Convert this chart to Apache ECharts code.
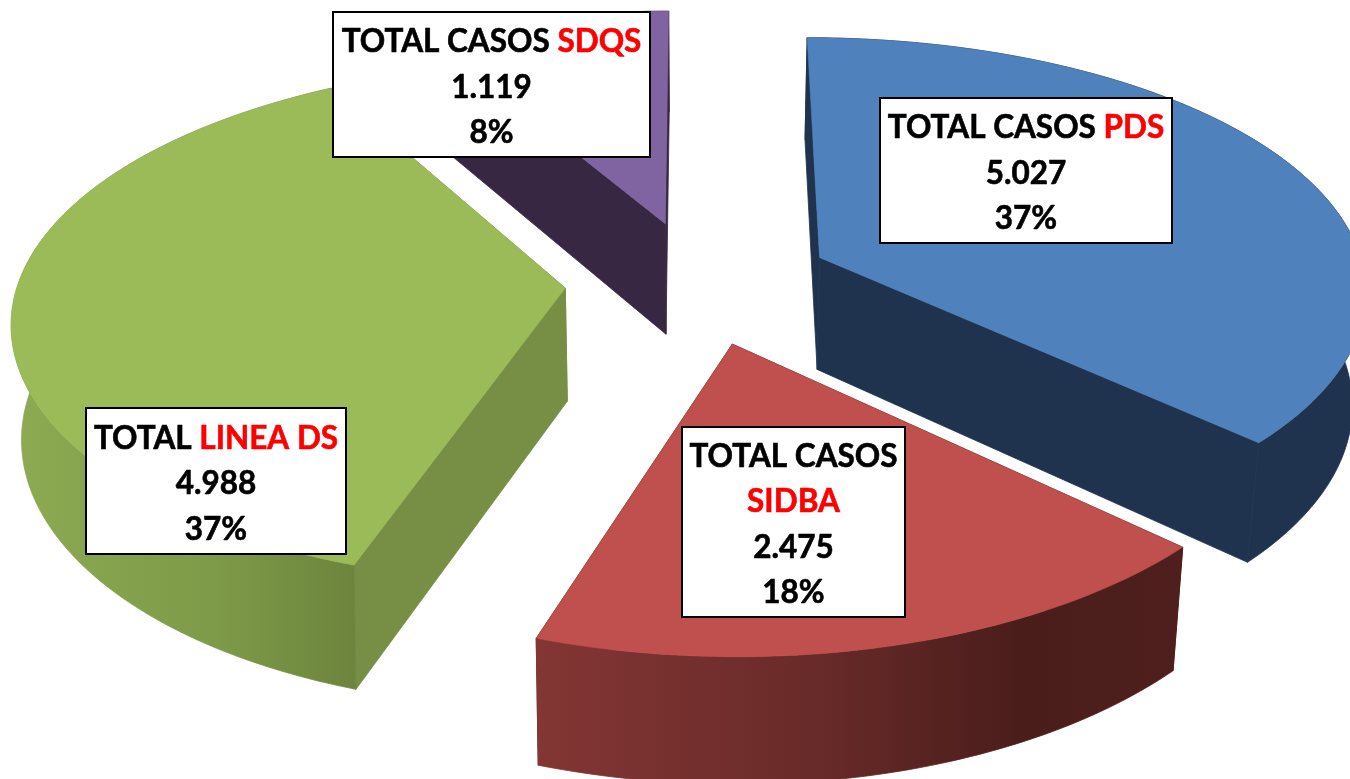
<!DOCTYPE html>
<html>
<head>
<meta charset="utf-8">
<title>Total casos</title>
<style>
  html, body { margin: 0; padding: 0; background: #fff; }
  #chart { width: 1350px; height: 779px; }
</style>
<script src="https://cdn.jsdelivr.net/npm/echarts@6/dist/echarts.min.js"></script>
</head>
<body>
<div id="chart"></div>
<script>
// datos
const categories = ["PDS", "SIDBA", "LINEA DS", "SDQS"];
const values = [5027, 2475, 4988, 1119];
const prefixes = ["TOTAL CASOS", "TOTAL CASOS", "TOTAL", "TOTAL CASOS"];
const percents = ["37%", "18%", "37%", "8%"];
const topColors = ["#4f81bd", "#c0504d", "#9bbb59", "#8064a2"];
const wallColors = ["#1f334f", "#4f1f1d", "#778f44", "#382742"];

// cajas de las etiquetas [x, y, ancho, alto]
const boxes = [
  [880, 98, 292, 145],
  [682, 427, 223, 190],
  [86, 408, 260, 146],
  [333, 12, 317, 145]
];

// proyeccion del pastel 3D
const cx = 698.5, cy = 282, R = 547;
const tilt = 0.465, depth = 0.2095, explode = 0.244;
const perspX = 0.115, perspY = 0.13, perspZ = 0.015;
const convergeRight = 0.02;

const total = values.reduce((a, b) => a + b, 0);
const angles = [];
let acc = 0;
values.forEach((v) => {
  const start = (acc / total) * Math.PI * 2;
  acc += v;
  angles.push([start, (acc / total) * Math.PI * 2]);
});

function project(X, Y, Z) {
  const dx = (R * X) / (1 - perspX * Y);
  const wy = 1 - perspY * Y + perspZ * Z;
  // la pared inferior se cierra distinto a cada lado del centro
  const a = Math.abs(dx);
  const left = Math.min(2, convergeRight * a) + 0.025 * Math.max(0, a - 350);
  const side = dx > 0 ? -convergeRight * dx : left;
  return [cx + dx + side * Z, cy + (R * (tilt * Y + depth * Z)) / wy];
}

function formatValue(v) {
  return String(v).replace(/\B(?=(\d{3})+$)/g, ".");
}

function rimColor(i) {
  // solo rojo y verde tienen degradado visible
  if (i === 1) {
    return new echarts.graphic.LinearGradient(0, 0, 1, 0, [
      { offset: 0, color: "#833634" },
      { offset: 0.45, color: "#672a28" },
      { offset: 0.75, color: "#4a1d1b" },
      { offset: 1, color: "#4e1f1d" }
    ]);
  }
  if (i === 2) {
    return new echarts.graphic.LinearGradient(0, 0, 1, 0, [
      { offset: 0, color: "#8cab52" },
      { offset: 0.6, color: "#7d9a48" },
      { offset: 1, color: "#6c843c" }
    ]);
  }
  return wallColors[i];
}

function renderSlice(params, api) {
  const i = params.dataIndex;
  const [a0, a1] = angles[i];
  const mid = (a0 + a1) / 2;
  const ox = explode * Math.sin(mid);
  const oy = -explode * Math.cos(mid);

  const apexTop = project(ox, oy, 0);
  const apexBottom = project(ox, oy, 1);
  const arcTop = [];
  const arcBottom = [];
  const steps = Math.ceil(((a1 - a0) * 180) / Math.PI);
  for (let s = 0; s <= steps; s++) {
    const t = a0 + ((a1 - a0) * s) / steps;
    const X = ox + Math.sin(t);
    const Y = oy - Math.cos(t);
    arcTop.push(project(X, Y, 0));
    arcBottom.push(project(X, Y, 1));
  }
  const last = arcTop.length - 1;

  const wall = (points) => ({
    type: "polygon",
    shape: { points: points },
    style: { fill: wallColors[i], stroke: wallColors[i], lineWidth: 0.8 }
  });

  const [bx, by, bw, bh] = boxes[i];
  let firstLine = "{k|" + prefixes[i] + " }{r|" + categories[i] + "}";
  if (i === 1) {
    firstLine = "{k|" + prefixes[i] + "}\n{r|" + categories[i] + "}";
  }
  const textStyle = { fontFamily: "Lato", fontWeight: "bold", fontSize: 31.5, lineHeight: 45.5, align: "center", lineWidth: 0.6 };

  return {
    type: "group",
    children: [
      wall([apexTop, arcTop[0], arcBottom[0], apexBottom]),
      wall([apexTop, arcTop[last], arcBottom[last], apexBottom]),
      {
        type: "polygon",
        shape: { points: arcTop.concat(arcBottom.slice().reverse()) },
        style: { fill: rimColor(i), stroke: rimColor(i), lineWidth: 0.8 }
      },
      {
        type: "polygon",
        shape: { points: [apexTop].concat(arcTop) },
        style: { fill: topColors[i], stroke: topColors[i], lineWidth: 0.5 }
      },
      {
        type: "rect",
        z2: 100,
        shape: { x: bx, y: by, width: bw, height: bh },
        style: { fill: "#fff", stroke: "#000", lineWidth: 2 }
      },
      {
        type: "text",
        z2: 101,
        style: {
          x: bx + bw / 2,
          y: by + bh / 2 + 3,
          align: "center",
          verticalAlign: "middle",
          text: firstLine + "\n{k|" + formatValue(values[i]) + "}\n{k|" + percents[i] + "}",
          rich: {
            k: Object.assign({ fill: "#000", stroke: "#000" }, textStyle),
            r: Object.assign({ fill: "#ff0000", stroke: "#ff0000" }, textStyle)
          }
        }
      }
    ]
  };
}

const chart = echarts.init(document.getElementById("chart"));
chart.setOption({
  animation: false,
  backgroundColor: "#fff",
  series: [
    {
      type: "custom",
      coordinateSystem: "none",
      silent: true,
      renderItem: renderSlice,
      data: values
    }
  ]
});
</script>
</body>
</html>
